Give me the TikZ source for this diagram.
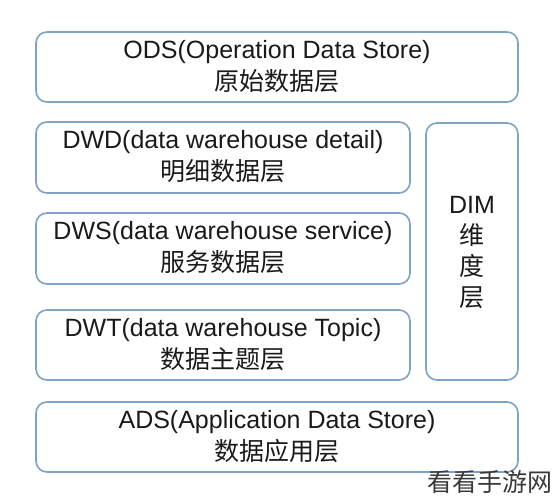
\documentclass[tikz,border=0pt]{standalone}
\usepackage{fontspec}
\setmainfont{Liberation Sans}
\newfontfamily\cjk{Noto Sans CJK SC}
\begin{document}
\begin{tikzpicture}[x=1pt,y=-1pt,
  layer/.style={draw=bordercol,line width=1.6pt,rounded corners=11pt,fill=white},
  lbl/.style={text=textcol,font=\fontsize{25}{32}\selectfont,align=center},
  wm/.style={text=wmcol,font=\cjk\fontsize{25}{30}\selectfont}]
\definecolor{bordercol}{HTML}{7FA3C4}
\definecolor{textcol}{HTML}{1A1A1A}
\definecolor{wmcol}{HTML}{3A3A3A}
\useasboundingbox[fill=white] (0,0) rectangle (556,500);
\draw[layer] (36,32) rectangle (518,102);
\draw[layer] (36,122) rectangle (410,193);
\draw[layer] (36,213) rectangle (410,284);
\draw[layer] (36,310) rectangle (410,380);
\draw[layer] (36,402) rectangle (518,472);
\draw[layer] (426,123) rectangle (518,380);
\node[lbl] (ods) at (277,67) {ODS(Operation Data Store)\\{\cjk 原始数据层}};
\node[lbl] (dwd) at (223,157) {DWD(data warehouse detail)\\{\cjk 明细数据层}};
\node[lbl] (dws) at (223,248) {DWS(data warehouse service)\\{\cjk 服务数据层}};
\node[lbl] (dwt) at (223,345) {DWT(data warehouse Topic)\\{\cjk 数据主题层}};
\node[lbl] (ads) at (277,437) {ADS(Application Data Store)\\{\cjk 数据应用层}};
\node[lbl,font=\fontsize{25}{31}\selectfont] (dim) at (472,253) {DIM\\{\cjk 维}\\{\cjk 度}\\{\cjk 层}};
\node[wm,anchor=east] (mark) at (556,482) {看看手游网};
\end{tikzpicture}
\end{document}
